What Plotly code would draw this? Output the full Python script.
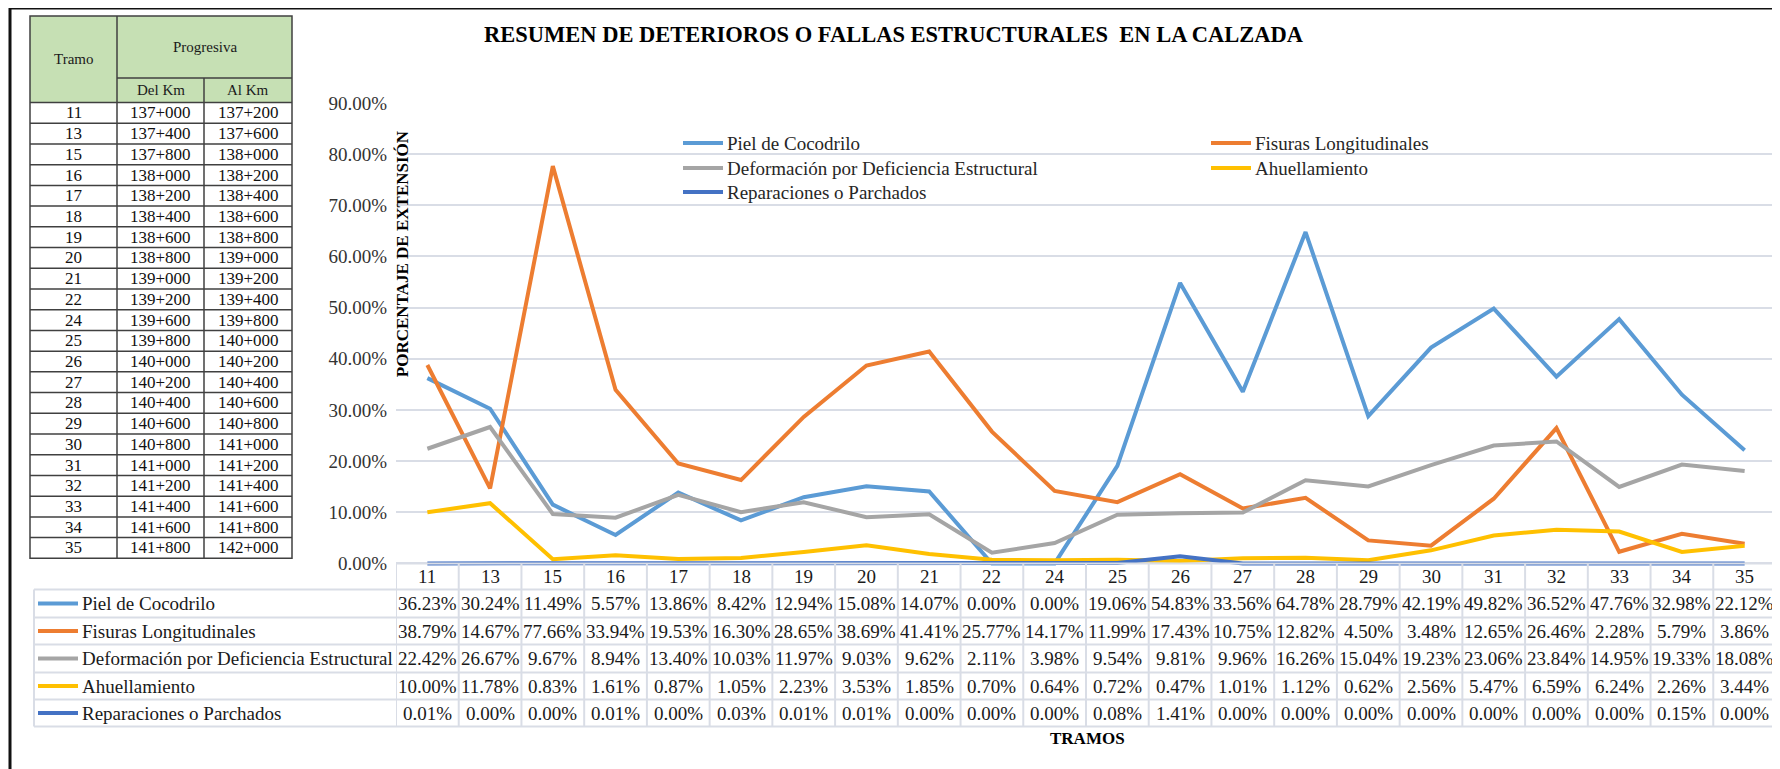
import plotly.graph_objects as go

# ---------------- data ----------------
categories = ["11", "13", "15", "16", "17", "18", "19", "20", "21", "22", "24",
              "25", "26", "27", "28", "29", "30", "31", "32", "33", "34", "35"]

piel_de_cocodrilo = [36.23, 30.24, 11.49, 5.57, 13.86, 8.42, 12.94, 15.08, 14.07, 0.00, 0.00,
                     19.06, 54.83, 33.56, 64.78, 28.79, 42.19, 49.82, 36.52, 47.76, 32.98, 22.12]
fisuras_longitudinales = [38.79, 14.67, 77.66, 33.94, 19.53, 16.30, 28.65, 38.69, 41.41, 25.77, 14.17,
                          11.99, 17.43, 10.75, 12.82, 4.50, 3.48, 12.65, 26.46, 2.28, 5.79, 3.86]
deformacion = [22.42, 26.67, 9.67, 8.94, 13.40, 10.03, 11.97, 9.03, 9.62, 2.11, 3.98,
               9.54, 9.81, 9.96, 16.26, 15.04, 19.23, 23.06, 23.84, 14.95, 19.33, 18.08]
ahuellamiento = [10.00, 11.78, 0.83, 1.61, 0.87, 1.05, 2.23, 3.53, 1.85, 0.70, 0.64,
                 0.72, 0.47, 1.01, 1.12, 0.62, 2.56, 5.47, 6.59, 6.24, 2.26, 3.44]
reparaciones = [0.01, 0.00, 0.00, 0.01, 0.00, 0.03, 0.01, 0.01, 0.00, 0.00, 0.00,
                0.08, 1.41, 0.00, 0.00, 0.00, 0.00, 0.00, 0.00, 0.00, 0.15, 0.00]

series_names = ["Piel de Cocodrilo", "Fisuras Longitudinales",
                "Deformación por Deficiencia Estructural", "Ahuellamiento",
                "Reparaciones o Parchados"]
series_values = [piel_de_cocodrilo, fisuras_longitudinales, deformacion, ahuellamiento, reparaciones]
series_colors = ["#5b9bd5", "#ed7d31", "#a5a5a5", "#ffc000", "#4472c4"]

y_ticks = [0.0, 0.1, 0.2, 0.3, 0.4, 0.5, 0.6, 0.7, 0.8, 0.9]

tramos = categories
del_km = ["137+000", "137+400", "137+800", "138+000", "138+200", "138+400", "138+600", "138+800",
          "139+000", "139+200", "139+600", "139+800", "140+000", "140+200", "140+400", "140+600",
          "140+800", "141+000", "141+200", "141+400", "141+600", "141+800"]
al_km = ["137+200", "137+600", "138+000", "138+200", "138+400", "138+600", "138+800", "139+000",
         "139+200", "139+400", "139+800", "140+000", "140+200", "140+400", "140+600", "140+800",
         "141+000", "141+200", "141+400", "141+600", "141+800", "142+000"]

title_text = "RESUMEN DE DETERIOROS O FALLAS ESTRUCTURALES\u00a0 EN LA CALZADA"
y_title = "PORCENTAJE DE EXTENSIÓN"
x_title = "TRAMOS"

# ---------------- geometry (screen pixels; page has an 8px body margin) ----------------
W, H = 1780, 769
OFF = 8
PL, PR = 396, 1776
PT, PZ = 103, 563
YMAX, YMIN = 0.9, -0.005
SCALE = (PZ - PT) / YMAX
PB = PZ - YMIN * SCALE

FONT = "Liberation Serif"
GRID = "#d9dde6"


def fx(p):
    return (p - PL) / (PR - PL)


def fy(p):
    return (PB - p) / (PB - PT)


fig = go.Figure()
for name, vals, col in zip(series_names, series_values, series_colors):
    fig.add_trace(go.Scatter(
        x=categories, y=[v / 100 for v in vals], mode="lines", name=name,
        line=dict(color=col, width=4), hoverinfo="x+y+name", showlegend=False))

shapes = []
annotations = []

# outer frame
shapes.append(dict(type="rect", xref="paper", yref="paper", x0=fx(10), x1=fx(1777),
                   y0=fy(8), y1=fy(830), line=dict(color="#111111", width=3)))

# title and axis titles
annotations.append(dict(xref="paper", yref="paper", x=fx(894), y=fy(35), text="<b>" + title_text + "</b>",
                        showarrow=False, font=dict(family=FONT, size=22.5, color="#000000"),
                        xanchor="center", yanchor="middle"))
annotations.append(dict(xref="paper", yref="paper", x=fx(402), y=fy(254), text="<b>" + y_title + "</b>",
                        showarrow=False, textangle=-90, font=dict(family=FONT, size=17, color="#000000"),
                        xanchor="center", yanchor="middle"))
annotations.append(dict(xref="paper", yref="paper", x=fx(1087), y=fy(738), text="<b>" + x_title + "</b>",
                        showarrow=False, font=dict(family=FONT, size=17, color="#000000"),
                        xanchor="center", yanchor="middle"))

# ---------------- legend (inside plot, two columns) ----------------
leg_cols = [(683, 723, 725), (1211, 1251, 1253)]
leg_rows = [143, 168, 192]
for k, (name, col) in enumerate(zip(series_names, series_colors)):
    x0, x1, xt = leg_cols[k % 2]
    yc = leg_rows[k // 2]
    shapes.append(dict(type="line", xref="paper", yref="paper", x0=fx(x0), x1=fx(x1),
                       y0=fy(yc), y1=fy(yc), line=dict(color=col, width=4)))
    annotations.append(dict(xref="paper", yref="paper", x=fx(xt), y=fy(yc), text=name, showarrow=False,
                            font=dict(family=FONT, size=19, color="#262626"),
                            xanchor="left", yanchor="middle"))

# ---------------- bottom data table ----------------
n = len(categories)
row_lines = [563, 589, 617, 644, 672, 699, 726]
TL = 34
for i in range(n + 1):
    shapes.append(dict(type="line", xref="x", yref="paper", x0=i - 0.5, x1=i - 0.5,
                       y0=fy(row_lines[0]), y1=fy(row_lines[-1]), line=dict(color=GRID, width=2)))
shapes.append(dict(type="line", xref="paper", yref="paper", x0=fx(TL), x1=fx(TL),
                   y0=fy(row_lines[1]), y1=fy(row_lines[-1]), line=dict(color=GRID, width=2)))
shapes.append(dict(type="line", xref="paper", yref="paper", x0=0, x1=1,
                   y0=fy(row_lines[0]), y1=fy(row_lines[0]), line=dict(color=GRID, width=2)))
for yl in row_lines[1:]:
    shapes.append(dict(type="line", xref="paper", yref="paper", x0=fx(TL), x1=1,
                       y0=fy(yl), y1=fy(yl), line=dict(color=GRID, width=2)))

hdr_c = (row_lines[0] + row_lines[1]) / 2
for i, c in enumerate(categories):
    annotations.append(dict(xref="x", yref="paper", x=i, y=fy(hdr_c), text=c, showarrow=False,
                            font=dict(family=FONT, size=19, color="#1a1a1a"),
                            xanchor="center", yanchor="middle"))
for r, (name, vals, col) in enumerate(zip(series_names, series_values, series_colors)):
    yc = (row_lines[r + 1] + row_lines[r + 2]) / 2
    shapes.append(dict(type="line", xref="paper", yref="paper", x0=fx(38), x1=fx(78),
                       y0=fy(yc), y1=fy(yc), line=dict(color=col, width=4)))
    annotations.append(dict(xref="paper", yref="paper", x=fx(80), y=fy(yc), text=name, showarrow=False,
                            font=dict(family=FONT, size=19, color="#1a1a1a"),
                            xanchor="left", yanchor="middle"))
    for i, v in enumerate(vals):
        annotations.append(dict(xref="x", yref="paper", x=i, y=fy(yc), text=f"{v:.2f}%", showarrow=False,
                                font=dict(family=FONT, size=19, color="#1a1a1a"),
                                xanchor="center", yanchor="middle"))

# ---------------- left table ----------------
LX = [30, 117, 204, 292]
HT, HM, HB = 16, 78, 102.5
RH = 20.7
LB = HB + RH * len(tramos)
BORDER = "#404040"
shapes.append(dict(type="rect", xref="paper", yref="paper", x0=fx(LX[0]), x1=fx(LX[3]),
                   y0=fy(HT), y1=fy(HB), fillcolor="#c6e0b4", line=dict(width=0), layer="below"))
shapes.append(dict(type="rect", xref="paper", yref="paper", x0=fx(LX[0]), x1=fx(LX[3]),
                   y0=fy(HT), y1=fy(LB), line=dict(color=BORDER, width=1.5)))
shapes.append(dict(type="line", xref="paper", yref="paper", x0=fx(LX[1]), x1=fx(LX[1]),
                   y0=fy(HT), y1=fy(LB), line=dict(color=BORDER, width=1.5)))
shapes.append(dict(type="line", xref="paper", yref="paper", x0=fx(LX[2]), x1=fx(LX[2]),
                   y0=fy(HM), y1=fy(LB), line=dict(color=BORDER, width=1.5)))
shapes.append(dict(type="line", xref="paper", yref="paper", x0=fx(LX[1]), x1=fx(LX[3]),
                   y0=fy(HM), y1=fy(HM), line=dict(color=BORDER, width=1.5)))
for i in range(len(tramos)):
    yl = HB + RH * i
    shapes.append(dict(type="line", xref="paper", yref="paper", x0=fx(LX[0]), x1=fx(LX[3]),
                       y0=fy(yl), y1=fy(yl), line=dict(color=BORDER, width=1.5)))

hdr_font = dict(family=FONT, size=15, color="#1a1a1a")
for txt, xc, yc in [("Tramo", (LX[0] + LX[1]) / 2, (HT + HB) / 2),
                    ("Progresiva", (LX[1] + LX[3]) / 2, (HT + HM) / 2),
                    ("Del Km", (LX[1] + LX[2]) / 2, (HM + HB) / 2),
                    ("Al Km", (LX[2] + LX[3]) / 2, (HM + HB) / 2)]:
    annotations.append(dict(xref="paper", yref="paper", x=fx(xc), y=fy(yc), text=txt, showarrow=False,
                            font=hdr_font, xanchor="center", yanchor="middle"))
cell_font = dict(family=FONT, size=17, color="#111111")
for i, (t, a, b) in enumerate(zip(tramos, del_km, al_km)):
    yc = HB + RH * (i + 0.5)
    for txt, k in [(t, 0), (a, 1), (b, 2)]:
        annotations.append(dict(xref="paper", yref="paper", x=fx((LX[k] + LX[k + 1]) / 2), y=fy(yc),
                                text=txt, showarrow=False, font=cell_font,
                                xanchor="center", yanchor="middle"))

fig.update_layout(
    width=W, height=H,
    margin=dict(l=PL - OFF, r=W - (PR - OFF), t=PT - OFF, b=H - (PB - OFF), pad=0),
    paper_bgcolor="white", plot_bgcolor="white",
    font=dict(family=FONT, size=17, color="#262626"),
    xaxis=dict(type="category", range=[-0.5, n - 0.5], showticklabels=False, showgrid=False,
               zeroline=False, showline=False, ticks=""),
    yaxis=dict(range=[YMIN, YMAX], tickvals=y_ticks, tickformat=".2%", showgrid=True,
               gridcolor=GRID, gridwidth=1.5, zeroline=False, showline=False, ticks="",
               tickfont=dict(family=FONT, size=19, color="#333333"), ticklabelstandoff=8),
    showlegend=False,
    shapes=shapes,
    annotations=annotations,
)

fig.write_html("out.html")
